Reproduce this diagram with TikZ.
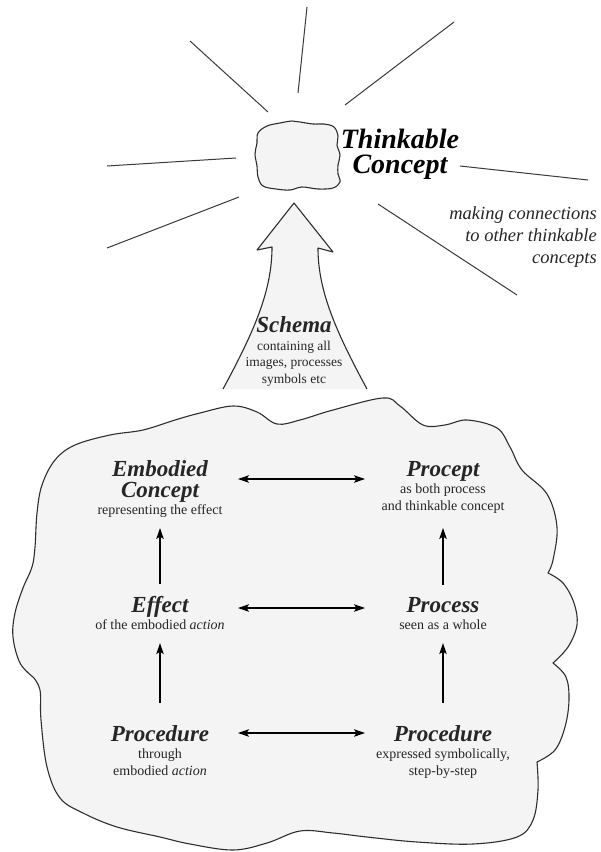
\documentclass[tikz,border=0pt]{standalone}
\usepackage{fontspec}
\setmainfont{Liberation Serif}
\usetikzlibrary{arrows.meta,calc}
\definecolor{cloudfill}{HTML}{F4F4F4}
\definecolor{edgecol}{HTML}{2E2E2E}
\definecolor{raycol}{HTML}{3A3A3A}
\newcommand\lblbf[1]{{\fontsize{23}{17}\selectfont\bfseries\itshape #1}}
\tikzset{
  lbl/.style={align=center, inner sep=0pt, outer sep=0pt, minimum width=156pt,
    font=\fontsize{14}{17}\selectfont, text=black!85},
  ray/.style={draw=raycol, line width=1pt},
  outline/.style={draw=edgecol, line width=1.1pt, line join=round},
  arr/.style={draw=black, line width=1.1pt, -{Stealth[length=11pt,width=7.5pt,inset=2.5pt]}},
  darr/.style={draw=black, line width=1.1pt, {Stealth[length=11pt,width=7.5pt,inset=2.5pt]}-{Stealth[length=11pt,width=7.5pt,inset=2.5pt]}}
}
\begin{document}
\begin{tikzpicture}[x=1pt,y=-1pt]
\useasboundingbox[fill=white] (0,0) rectangle (601,852);

% rays
\draw[ray] (307,7) -- (298,93);
\draw[ray] (190,41) -- (268,112);
\draw[ray] (454,22) -- (345,105);
\draw[ray] (107,166) -- (236,158);
\draw[ray] (107,248) -- (239,197);
\draw[ray] (460,166) -- (588,180);
\draw[ray] (378,204) -- (517,295);

% small cloud
\draw[outline, fill=cloudfill] plot[smooth cycle, tension=0.6] coordinates {
  (267,126) (280,123) (292,121) (300,122) (313,124) (324,124) (334,127)
  (338,136) (337,145) (340,155) (338,165) (338,174) (340,182)
  (333,188) (318,189) (302,187) (290,190) (276,189) (263,186)
  (258,177) (257,166) (255,154) (257,143) (258,133)};

% thinkable concept
\node[align=center, inner sep=0pt, font=\fontsize{28}{25}\selectfont\bfseries\itshape, anchor=base]
  (TC) at (400,173) {Thinkable\\Concept};
\node[align=right, inner sep=0pt, font=\fontsize{18.5}{22}\selectfont\itshape, text=black!85, anchor=base east]
  (MC) at (597,263) {making connections\\to other thinkable\\concepts};

% big arrow (schema)
\fill[cloudfill] (223,389) .. controls (255,330) and (272,290) .. (272,247)
  -- (257,250) -- (294,203) -- (333,252) -- (318,248)
  .. controls (318,290) and (335,330) .. (367,389) -- cycle;
\draw[outline] (223,389) .. controls (255,330) and (272,290) .. (272,247)
  -- (257,250) -- (294,203) -- (333,252) -- (318,248)
  .. controls (318,290) and (335,330) .. (367,389);
\node[align=center, inner sep=0pt, font=\fontsize{13.5}{16.5}\selectfont, text=black!85, anchor=base]
  (SC) at (294,383) {{\fontsize{23}{16.5}\selectfont\bfseries\itshape Schema}\\[1.5pt]containing all\\images, processes\\symbols etc};

% big cloud
\draw[outline, fill=cloudfill]
  plot[smooth, tension=0.6] coordinates {(548,573) (563,583) (574,603) (577,625) (568,647) (553,663)}
  -- plot[smooth, tension=0.6] coordinates {(553,663) (566,677) (569,700) (565,727) (555,750) (537,762)}
  -- plot[smooth, tension=0.6] coordinates {(537,762) (538,790) (533,820) (517,837) (473,844) (417,842) (367,837) (333,833) (300,831) (267,843) (233,850) (190,844) (160,837) (117,827) (83,813) (60,798) (47,767) (41,720) (40,690) (33,677)}
  -- plot[smooth, tension=0.6] coordinates {(33,677) (20,663) (13,637) (15,613) (23,588) (32,567) (35,547) (37,513) (42,485) (55,460) (75,445) (110,435) (143,430) (175,420) (200,413) (233,406) (257,412) (277,424) (300,420) (333,410) (383,398) (400,406) (423,425) (445,425) (467,420) (497,428) (510,447) (522,470) (547,494) (557,527) (553,560) (548,573)}
  -- cycle;

% concept nodes (anchor = baseline of last line)
\node[lbl, anchor=base] (EC) at (160,514) {\lblbf{Embodied}\\[4pt]\lblbf{Concept}\\representing the effect};
\node[lbl, anchor=base] (PC) at (443,510) {\lblbf{Procept}\\as both process\\and thinkable concept};
\node[lbl, anchor=base] (EF) at (160,629) {\lblbf{Effect}\\of the embodied \textit{action}};
\node[lbl, anchor=base] (PR) at (443,629) {\lblbf{Process}\\seen as a whole};
\node[lbl, anchor=base] (PL) at (160,775) {\lblbf{Procedure}\\through\\embodied \textit{action}};
\node[lbl, anchor=base] (PS) at (443,775) {\lblbf{Procedure}\\expressed symbolically,\\step-by-step};

% row levels
\coordinate (r1) at (0,479);
\coordinate (r2) at (0,608);
\coordinate (r3) at (0,733);

% horizontal arrows
\draw[darr] (EC.east |- r1) -- (PC.west |- r1);
\draw[darr] (EF.east |- r2) -- (PR.west |- r2);
\draw[darr] (PL.east |- r3) -- (PS.west |- r3);

% vertical arrows
\draw[arr, shorten <=12pt, shorten >=11pt] (EF.north) -- (EC.south);
\draw[arr, shorten <=22pt, shorten >=14pt] (PL.north) -- (EF.south);
\draw[arr, shorten <=12pt, shorten >=15pt] (PR.north) -- (PC.south);
\draw[arr, shorten <=22pt, shorten >=14pt] (PS.north) -- (PR.south);
\end{tikzpicture}
\end{document}
